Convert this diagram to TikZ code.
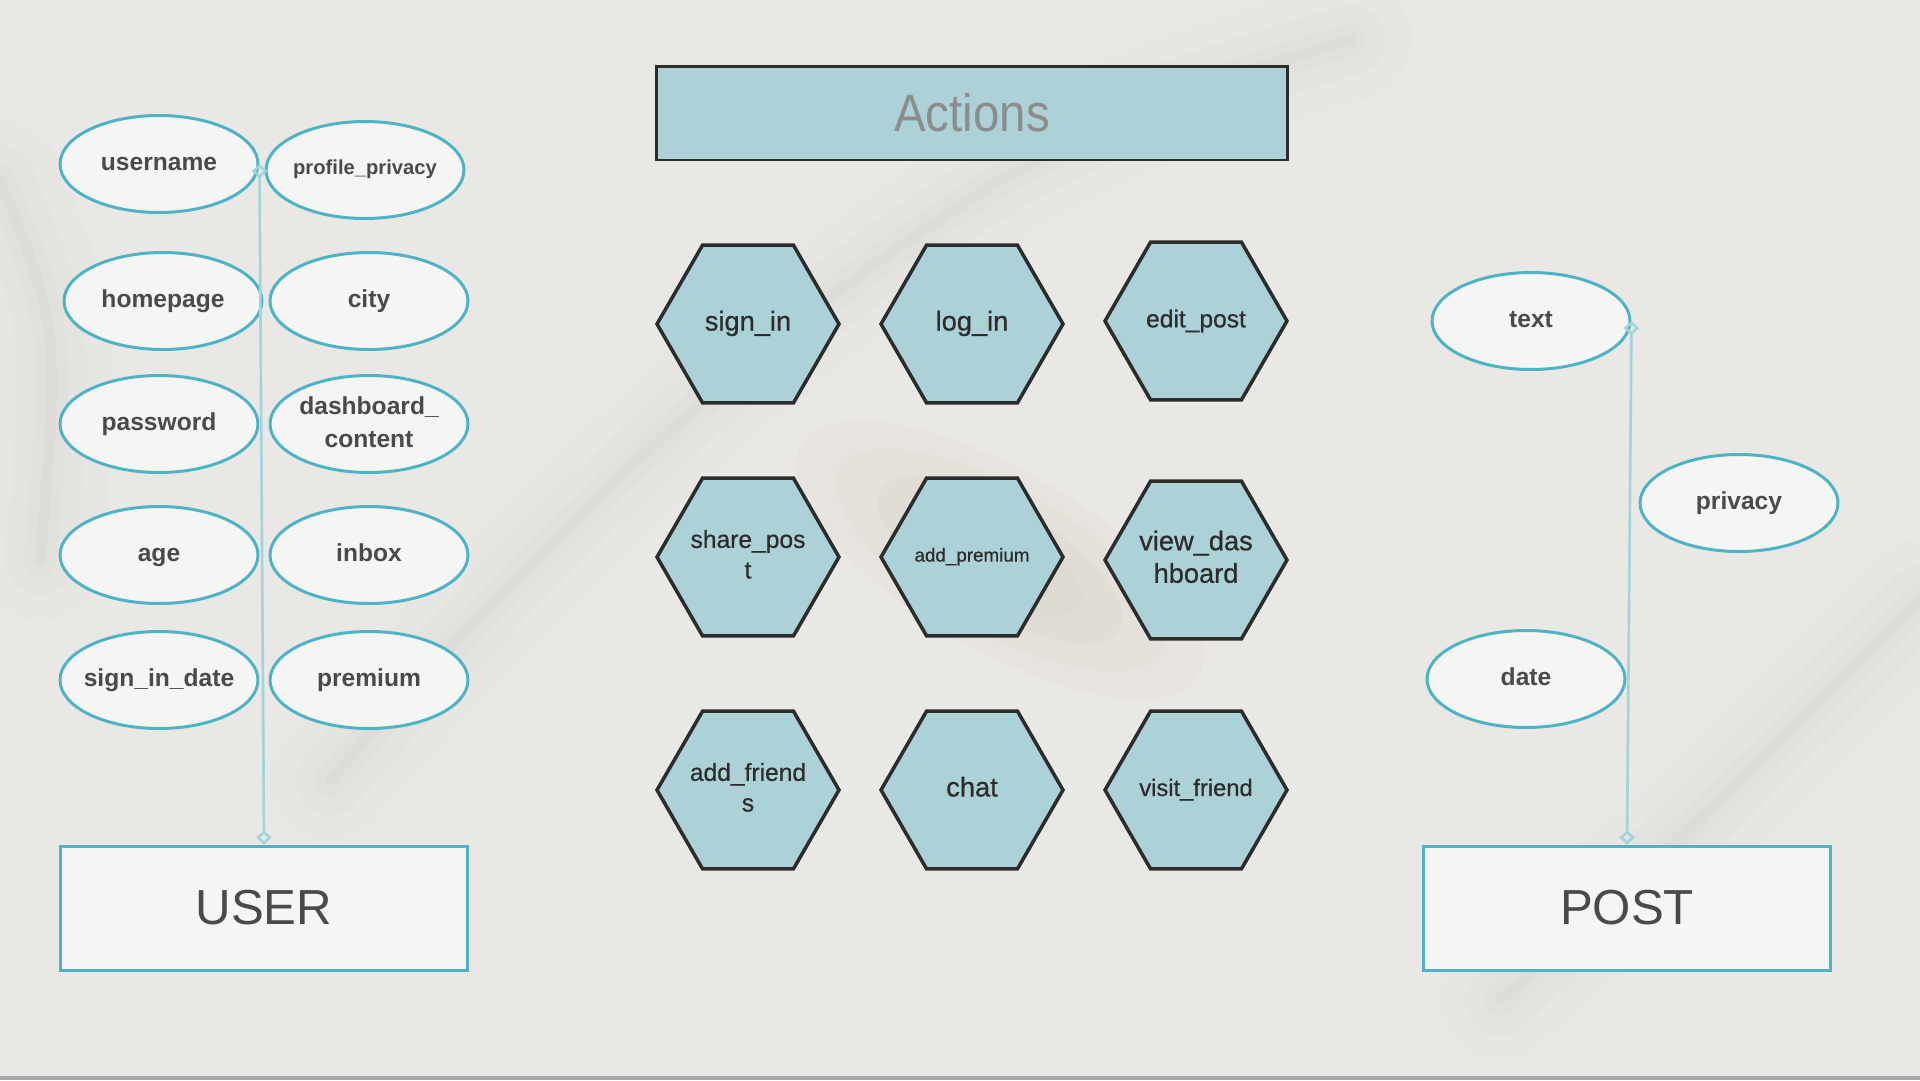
\documentclass[tikz,border=0pt]{standalone}
\usepackage{fontspec}
\setmainfont{Liberation Sans}
\newfontfamily\hexfont[FakeBold=0.6]{Liberation Sans}
\usepackage{tikz}
\usetikzlibrary{arrows.meta,positioning,shapes.geometric}
\definecolor{BgMarble}{HTML}{EAE8E4}
\definecolor{VeinGray}{HTML}{8F8A82}
\definecolor{VeinBeige}{HTML}{B9A98A}
\definecolor{AttrTeal}{HTML}{4DB3C5}
\definecolor{AttrFill}{HTML}{F5F5F4}
\definecolor{LinkTeal}{HTML}{A3D4DB}
\definecolor{HexFill}{HTML}{ACD1D6}
\definecolor{HexLine}{HTML}{2C2C2C}
\definecolor{TextGray}{HTML}{4A4A4A}
\definecolor{TitleGray}{HTML}{8C8C8C}
% label of zero width, so that the shape keeps its size
\newcommand{\lbl}[1]{\makebox[0pt]{\begin{tabular}{@{}c@{}}#1\end{tabular}}}

\begin{document}
\begin{tikzpicture}[
  x=0.02cm, y=-0.02cm,
  every node/.style={font=\bfseries\fontsize{14}{18.7}\selectfont, text=TextGray},
  attr/.style={ellipse, draw=AttrTeal, line width=1.7pt, fill=AttrFill, minimum width=3.96cm, minimum height=1.94cm, inner sep=0pt},
  action/.style={regular polygon, regular polygon sides=6, draw=HexLine, line width=2pt, fill=HexFill, minimum size=3.64cm, inner sep=0pt, text=HexLine, font=\hexfont\fontsize{15.5}{18.5}\selectfont},
  entity/.style={rectangle, draw=AttrTeal, line width=1.7pt, fill=AttrFill, minimum width=8.16cm, minimum height=2.48cm, text=TextGray, font=\fontsize{28}{32}\selectfont},
  link/.style={draw=LinkTeal, line width=1.5pt, {Diamond[open,length=8pt,width=9pt]}-{Diamond[open,length=8pt,width=9pt]}},
]
  \useasboundingbox (0,0) rectangle (1920,1080);
  \fill[BgMarble] (0,0) rectangle (1920,1080);

  % marble veins
  \foreach \w/\o in {70/0.02,40/0.025,18/0.03,6/0.04}{
    \draw[line width=\w pt, VeinGray, opacity=\o, line cap=round]
      (330,780) .. controls (560,520) and (760,330) .. (1000,180) .. controls (1150,100) .. (1350,40);
    \draw[line width=\w pt, VeinGray, opacity=\o, line cap=round]
      (1500,1000) .. controls (1700,820) .. (1920,600);
    \draw[line width=\w pt, VeinGray, opacity=\o, line cap=round]
      (0,180) .. controls (60,330) .. (40,560);
  }
  \foreach \r in {1,0.8,0.6,0.4}{
    \fill[VeinBeige, opacity=0.05, rotate around={-30:(1000,560)}] (1000,560) ellipse ({230*\r} and {90*\r});
  }
  \fill[gray!70] (0,1076) rectangle (1920,1080);

  % Actions
  \node[rectangle, draw=HexLine, line width=1.7pt, fill=HexFill, minimum width=12.64cm, minimum height=1.88cm,
        text=TitleGray, font=\mdseries\fontsize{30}{34}\selectfont] (actions) at (972,113) {\scalebox{0.9}[1]{Actions}};

  \node[action] (signin)     at (748,324)  {\lbl{sign\_in}};
  \node[action] (login)      at (972,324)  {\lbl{log\_in}};
  \node[action, font=\hexfont\fontsize{14}{18}\selectfont] (editpost) at (1196,321) {\lbl{edit\_post}};
  \node[action, font=\hexfont\fontsize{14}{17.4}\selectfont] (sharepost) at (748,557) {\lbl{share\_pos\\t}};
  \node[action, font=\hexfont\fontsize{10.7}{13}\selectfont] (addpremium) at (972,557) {\lbl{add\_premium}};
  \node[action] (viewdash)   at (1196,560) {\lbl{view\_das\\hboard}};
  \node[action, font=\hexfont\fontsize{14}{17.4}\selectfont] (addfriends) at (748,790) {\lbl{add\_friend\\s}};
  \node[action] (chat)       at (972,790)  {\lbl{chat}};
  \node[action, font=\hexfont\fontsize{13.5}{17}\selectfont] (visitfriend) at (1196,790) {\lbl{visit\_friend}};

  % USER
  \node[attr] (username)  at (159,164) {\lbl{username}};
  \node[attr, font=\bfseries\fontsize{11.5}{14}\selectfont] (privacyp) at (365,170) {\lbl{profile\_privacy}};
  \node[attr] (homepage)  at (163,301) {\lbl{homepage}};
  \node[attr] (city)      at (369,301) {\lbl{city}};
  \node[attr] (password)  at (159,424) {\lbl{password}};
  \node[attr] (dashboard) at (369,424) {\lbl{dashboard\_\\content}};
  \node[attr] (age)       at (159,555) {\lbl{age}};
  \node[attr] (inbox)     at (369,555) {\lbl{inbox}};
  \node[attr] (signdate)  at (159,680) {\lbl{sign\_in\_date}};
  \node[attr] (premium)   at (369,680) {\lbl{premium}};
  \node[entity] (user) at (264,908) {USER};
  \draw[link] (username.east) -- (user.north);

  % POST
  \node[attr] (text)    at (1531,321) {\lbl{text}};
  \node[attr] (privacy) at (1739,503) {\lbl{privacy}};
  \node[attr] (date)    at (1526,679) {\lbl{date}};
  \node[entity] (post) at (1627,908) {POST};
  \draw[link] (text.east) -- (post.north);
\end{tikzpicture}
\end{document}
